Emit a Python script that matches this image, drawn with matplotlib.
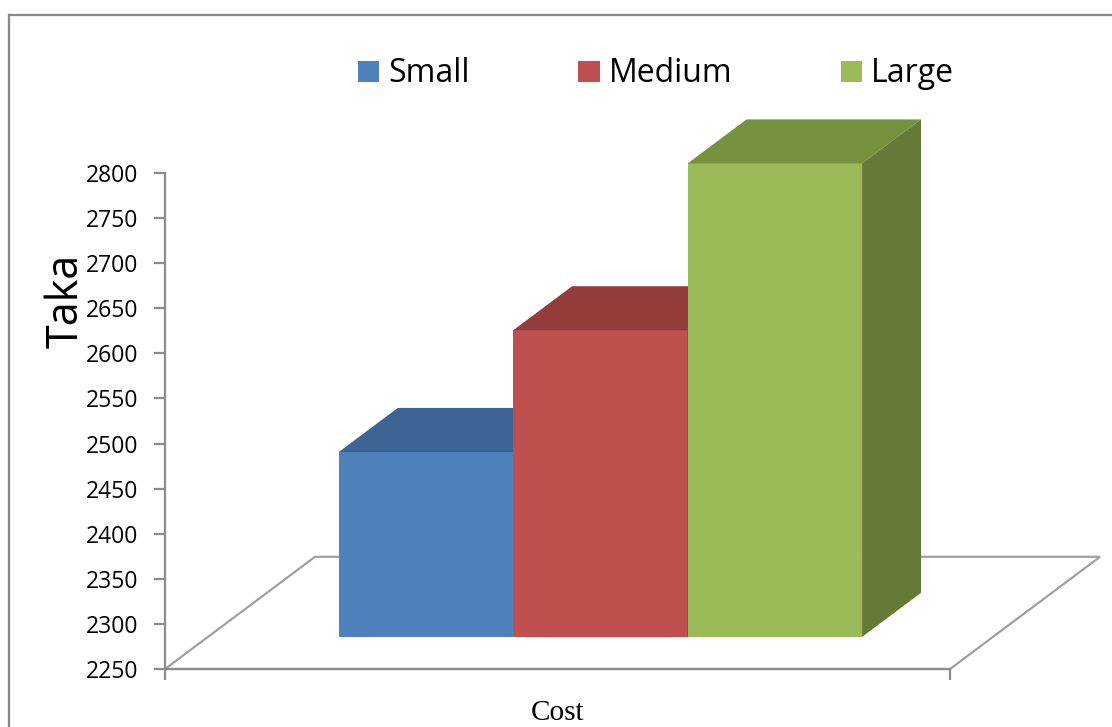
import matplotlib
matplotlib.use("Agg")
import matplotlib.pyplot as plt
from matplotlib.patches import Polygon, Patch
from matplotlib.lines import Line2D

# ---------------- data ----------------
categories = ["Small", "Medium", "Large"]
values = [2455, 2590, 2775]
y_ticks = [2250, 2300, 2350, 2400, 2450, 2500, 2550, 2600, 2650, 2700, 2750, 2800]
x_label = "Cost"
y_label = "Taka"

# ---------------- style ----------------
front_colors = ["#4F81BD", "#C0504D", "#9BBB59"]
top_colors = ["#3C6494", "#943C3A", "#77923F"]
side_colors = ["#355A86", "#7F3331", "#657A37"]
GREY = "#8C8C8C"

plt.rcParams["font.family"] = ["Open Sans", "DejaVu Sans"]

W, H = 1112, 727
fig = plt.figure(figsize=(W / 100, H / 100), dpi=100)
ax_left, ax_right, ax_top, ax_bot = 165, 950, 173, 669
ax = fig.add_axes([ax_left / W, 1 - ax_bot / H, (ax_right - ax_left) / W, (ax_bot - ax_top) / H])

YMIN, YMAX = y_ticks[0], y_ticks[-1]
XMAX = 4.5
ax.set_xlim(0, XMAX)
ax.set_ylim(YMIN, YMAX)

# oblique depth (floor depth in data units)
DX = 0.86
DY = 124.4
F0 = 0.286   # bar front face depth fraction
FB = 0.393   # bar depth fraction
GAP = 0.75
BW = 1.0

# floor
floor = Polygon([(0, YMIN), (XMAX, YMIN), (XMAX + DX, YMIN + DY), (DX, YMIN + DY)],
                closed=True, facecolor="white", edgecolor="#A0A0A0", lw=1.6,
                zorder=1, clip_on=False)
ax.add_patch(floor)

bdx, bdy = FB * DX, FB * DY
for i, (cat, v) in enumerate(zip(categories, values)):
    x0 = GAP + i * BW + F0 * DX
    x1 = x0 + BW
    base = YMIN + F0 * DY
    top = v + F0 * DY
    z = 3 + i
    bars = ax.bar([x0], [v - YMIN], width=BW, bottom=base, align="edge",
                  color=front_colors[i], edgecolor="none", zorder=z)
    for b in bars:
        b.set_clip_on(False)
    ax.add_patch(Polygon([(x0, top), (x1, top), (x1 + bdx, top + bdy), (x0 + bdx, top + bdy)],
                         closed=True, facecolor=top_colors[i], edgecolor="none",
                         zorder=z, clip_on=False))
    ax.add_patch(Polygon([(x1, base), (x1, top), (x1 + bdx, top + bdy), (x1 + bdx, base + bdy)],
                         closed=True, facecolor=side_colors[i], edgecolor="none",
                         zorder=z, clip_on=False))

# axes styling
for s in ["top", "right"]:
    ax.spines[s].set_visible(False)
for s in ["left", "bottom"]:
    ax.spines[s].set_color(GREY)
    ax.spines[s].set_linewidth(1.6)
ax.spines["left"].set_zorder(10)
ax.set_yticks(y_ticks)
ax.set_yticklabels([str(t) for t in y_ticks])
ax.set_xticks([0, XMAX])
ax.set_xticklabels(["", ""])
ax.tick_params(axis="y", length=8, width=1.6, color=GREY, labelsize=16.5, pad=11, labelcolor="black")
ax.tick_params(axis="x", length=8, width=1.6, color=GREY)
ax.set_facecolor("none")

ax.set_ylabel(y_label, fontsize=31, va="center", ha="center")
ax.yaxis.set_label_coords((66 - ax_left) / (ax_right - ax_left), (ax_bot - 301) / (ax_bot - ax_top))
ax.set_xlabel(x_label, fontsize=21, family=["Liberation Serif", "DejaVu Serif"], va="center", ha="center")
ax.xaxis.set_label_coords((558 - ax_left) / (ax_right - ax_left), (ax_bot - 713) / (ax_bot - ax_top))

# legend
handles = [Patch(facecolor=c, edgecolor="none") for c in front_colors]
fig.legend(handles, categories, loc="center", bbox_to_anchor=(656 / W, 1 - 74 / H),
           ncol=3, frameon=False, fontsize=23, handlelength=0.66, handleheight=0.66,
           handletextpad=0.28, columnspacing=3.4, borderpad=0, borderaxespad=0)

# chart border
fig.add_artist(Line2D([9 / W, 1], [1 - 15 / H, 1 - 15 / H], transform=fig.transFigure, color="#888888", lw=1.6))
fig.add_artist(Line2D([9 / W, 9 / W], [1 - 15 / H, 0], transform=fig.transFigure, color="#888888", lw=1.6))

fig.savefig("out.png", dpi=100)
